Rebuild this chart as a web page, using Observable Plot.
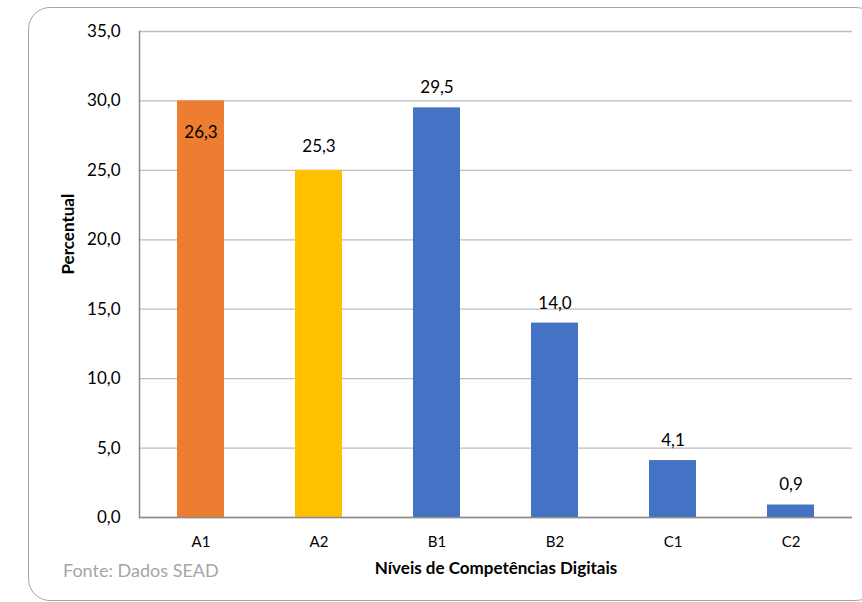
<!DOCTYPE html>
<html><head><meta charset="utf-8">
<script src="https://cdn.jsdelivr.net/npm/d3@7"></script>
<script src="https://cdn.jsdelivr.net/npm/@observablehq/plot@0.6"></script>
<style>
body{margin:0;background:#fff;font-family:Lato,sans-serif}
#wrap{position:relative;width:862px;height:602px;overflow:hidden;background:#fff}
#frame{position:absolute;left:28px;top:7px;width:850px;height:594px;border:1.5px solid #a6a6a6;border-radius:22px;box-sizing:border-box}
#chart{position:absolute;left:0;top:0}
#src{position:absolute;left:63px;top:559px;font-size:18px;color:#a6a6a6;font-family:Lato,sans-serif}
</style></head>
<body><div id="wrap"><div id="frame"></div><div id="chart"></div><div id="src">Fonte: Dados SEAD</div></div>
<script>
const categories = ["A1","A2","B1","B2","C1","C2"];
const barValues = [30.0, 25.0, 29.5, 14.0, 4.1, 0.9];
const labelValues = [26.3, 25.3, 29.5, 14.0, 4.1, 0.9];
const barColors = ["#ED7D31","#FFC000","#4472C4","#4472C4","#4472C4","#4472C4"];
const yTicks = [0, 5, 10, 15, 20, 25, 30, 35];

const data = categories.map((c, i) => ({cat: c, v: barValues[i], lab: labelValues[i], color: barColors[i]}));
const fmt = v => d3.format(".1f")(v).replace(".", ",");

const chart = Plot.plot({
  width: 862, height: 602,
  marginLeft: 139, marginRight: 10, marginTop: 31, marginBottom: 85,
  style: {fontFamily: "Lato, sans-serif", background: "transparent", color: "#000"},
  x: {domain: categories, paddingInner: 0.6, paddingOuter: 0.3, label: null},
  y: {domain: [0, 35], label: null},
  marks: [
    Plot.gridY(yTicks, {stroke: "#bdbdbd", strokeOpacity: 1, strokeWidth: 1.3}),
    Plot.barY(data, {x: "cat", y: "v", fill: "color"}),
    Plot.frame({anchor: "left", stroke: "#8c8c8c", strokeWidth: 1.5}),
    Plot.ruleY([0], {stroke: "#8c8c8c", strokeWidth: 1.5}),
    Plot.axisY(yTicks, {tickSize: 0, tickPadding: 19, tickFormat: fmt, fontSize: 17, label: null}),
    Plot.axisX({tickSize: 0, tickPadding: 19, fontSize: 15, label: null}),
    Plot.text(data, {x: "cat", y: "lab", text: d => fmt(d.lab), dy: -20, fontSize: 17, fill: "#000"}),
    Plot.text(["Percentual"], {frameAnchor: "left", dx: -71, rotate: -90, fontSize: 17, fontWeight: "bold", fill: "#000"}),
    Plot.text(["Níveis de Competências Digitais"], {frameAnchor: "bottom", dy: 56, fontSize: 17, fontWeight: "bold", fill: "#000"})
  ]
});
document.getElementById("chart").appendChild(chart);
</script>
</body></html>
